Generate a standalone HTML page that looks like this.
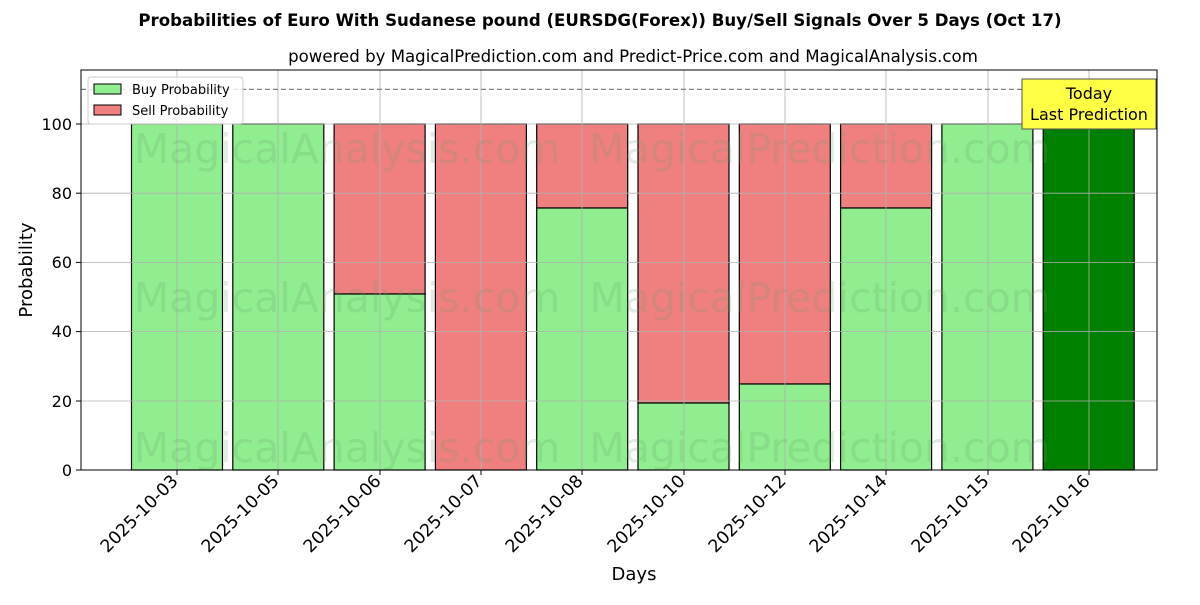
<!DOCTYPE html>
<html><head><style>body{margin:0;background:#fff}svg text{font-family:"DejaVu Sans","Liberation Sans",sans-serif}</style></head><body>
<svg width="1200" height="600" xmlns="http://www.w3.org/2000/svg">
<rect width="1200" height="600" fill="#fff"/>
<text x="600" y="26" font-size="16.6" font-weight="bold" text-anchor="middle">Probabilities of Euro With Sudanese pound (EURSDG(Forex)) Buy/Sell Signals Over 5 Days (Oct 17)</text>
<text x="633" y="62" font-size="16.6" text-anchor="middle">powered by MagicalPrediction.com and Predict-Price.com and MagicalAnalysis.com</text>
<g stroke="#000" stroke-width="1.2">
<rect x="131.5" y="124" width="91" height="346" fill="#90ee90"/>
<rect x="232.8" y="124" width="91" height="346" fill="#90ee90"/>
<rect x="334.1" y="124" width="91" height="170" fill="#f08080"/><rect x="334.1" y="294" width="91" height="176" fill="#90ee90"/>
<rect x="435.4" y="124" width="91" height="346" fill="#f08080"/>
<rect x="536.7" y="124" width="91" height="84" fill="#f08080"/><rect x="536.7" y="208" width="91" height="262" fill="#90ee90"/>
<rect x="638" y="124" width="91" height="279" fill="#f08080"/><rect x="638" y="403" width="91" height="67" fill="#90ee90"/>
<rect x="739.3" y="124" width="91" height="260" fill="#f08080"/><rect x="739.3" y="384" width="91" height="86" fill="#90ee90"/>
<rect x="840.6" y="124" width="91" height="84" fill="#f08080"/><rect x="840.6" y="208" width="91" height="262" fill="#90ee90"/>
<rect x="941.9" y="124" width="91" height="346" fill="#90ee90"/>
<rect x="1043.2" y="124" width="91" height="346" fill="#008000"/>
</g>
<g stroke="#b0b0b0" stroke-width="0.8">
<line x1="177" y1="70" x2="177" y2="470"/><line x1="278" y1="70" x2="278" y2="470"/><line x1="380" y1="70" x2="380" y2="470"/><line x1="481" y1="70" x2="481" y2="470"/><line x1="582" y1="70" x2="582" y2="470"/><line x1="684" y1="70" x2="684" y2="470"/><line x1="785" y1="70" x2="785" y2="470"/><line x1="886" y1="70" x2="886" y2="470"/><line x1="988" y1="70" x2="988" y2="470"/><line x1="1089" y1="70" x2="1089" y2="470"/>
<line x1="81" y1="401" x2="1157" y2="401"/><line x1="81" y1="331.6" x2="1157" y2="331.6"/><line x1="81" y1="262.4" x2="1157" y2="262.4"/><line x1="81" y1="193.2" x2="1157" y2="193.2"/><line x1="81" y1="124" x2="1157" y2="124"/>
</g>
<g font-size="41" fill="#6a9a6a" fill-opacity="0.2" text-anchor="middle">
<text x="347" y="163">MagicalAnalysis.com</text><text x="820" y="163">MagicalPrediction.com</text>
<text x="347" y="312">MagicalAnalysis.com</text><text x="820" y="312">MagicalPrediction.com</text>
<text x="347" y="462">MagicalAnalysis.com</text><text x="820" y="462">MagicalPrediction.com</text>
</g>
<line x1="81" y1="89.4" x2="1157" y2="89.4" stroke="#808080" stroke-width="1.2" stroke-dasharray="5,3"/>
<rect x="81" y="70" width="1076" height="400" fill="none" stroke="#000" stroke-width="1"/>
<rect x="1022" y="79" width="134" height="50" fill="#ffff44" stroke="#555" stroke-width="1"/>
<text x="1089" y="99" font-size="16" text-anchor="middle">Today</text>
<text x="1089" y="120" font-size="16" text-anchor="middle">Last Prediction</text>
<rect x="88" y="77" width="155" height="47" rx="3" fill="#fff" fill-opacity="0.8" stroke="#ccc"/>
<rect x="94" y="84" width="27" height="10" fill="#90ee90" stroke="#000"/><text x="132" y="94" font-size="13">Buy Probability</text>
<rect x="94" y="105" width="27" height="10" fill="#f08080" stroke="#000"/><text x="132" y="115" font-size="13">Sell Probability</text>
<g font-size="16" text-anchor="end">
<text x="72" y="476">0</text><text x="72" y="407">20</text><text x="72" y="337">40</text><text x="72" y="268">60</text><text x="72" y="199">80</text><text x="72" y="130">100</text>
</g>
<g stroke="#000"><line x1="76" y1="470" x2="81" y2="470"/><line x1="76" y1="401" x2="81" y2="401"/><line x1="76" y1="331.6" x2="81" y2="331.6"/><line x1="76" y1="262.4" x2="81" y2="262.4"/><line x1="76" y1="193.2" x2="81" y2="193.2"/><line x1="76" y1="124" x2="81" y2="124"/>
<line x1="177" y1="470" x2="177" y2="475"/><line x1="278" y1="470" x2="278" y2="475"/><line x1="380" y1="470" x2="380" y2="475"/><line x1="481" y1="470" x2="481" y2="475"/><line x1="582" y1="470" x2="582" y2="475"/><line x1="684" y1="470" x2="684" y2="475"/><line x1="785" y1="470" x2="785" y2="475"/><line x1="886" y1="470" x2="886" y2="475"/><line x1="988" y1="470" x2="988" y2="475"/><line x1="1089" y1="470" x2="1089" y2="475"/></g>
<g font-size="17.4" text-anchor="end">
<text transform="translate(179,482) rotate(-45)">2025-10-03</text>
<text transform="translate(280,482) rotate(-45)">2025-10-05</text>
<text transform="translate(382,482) rotate(-45)">2025-10-06</text>
<text transform="translate(483,482) rotate(-45)">2025-10-07</text>
<text transform="translate(584,482) rotate(-45)">2025-10-08</text>
<text transform="translate(686,482) rotate(-45)">2025-10-10</text>
<text transform="translate(787,482) rotate(-45)">2025-10-12</text>
<text transform="translate(888,482) rotate(-45)">2025-10-14</text>
<text transform="translate(990,482) rotate(-45)">2025-10-15</text>
<text transform="translate(1091,482) rotate(-45)">2025-10-16</text>
</g>
<text x="634" y="580" font-size="18" text-anchor="middle">Days</text>
<text transform="translate(32,270) rotate(-90)" font-size="18" text-anchor="middle">Probability</text>
</svg>
</body></html>
